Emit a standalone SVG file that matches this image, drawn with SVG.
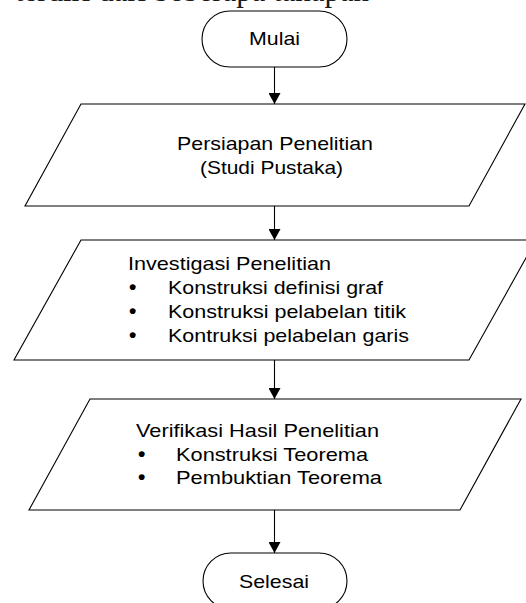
<svg xmlns="http://www.w3.org/2000/svg" width="526" height="603" viewBox="0 0 526 603">
  <style>
    .shape { fill: #ffffff; stroke: #000000; stroke-width: 1.1; }
    .lbl { font-family: "Liberation Sans", Arial, sans-serif; font-size: 19px; fill: #000000; }
    .bul { font-family: "Liberation Sans", Arial, sans-serif; font-size: 21px; font-weight: bold; fill: #000000; }
    .mid { text-anchor: middle; }
    .conn { stroke: #000000; stroke-width: 1.1; fill: none; marker-end: url(#arrow); }
    .top { font-family: "Liberation Serif", "Times New Roman", serif; font-size: 31px; fill: #1a1a1a; }
  </style>
  <defs>
    <marker id="arrow" markerUnits="userSpaceOnUse" markerWidth="12" markerHeight="12" viewBox="0 0 11 12" refX="11" refY="6" orient="auto">
      <path d="M0,0 L11,6 L0,12 Z" fill="#000000"/>
    </marker>
  </defs>
  <rect width="526" height="603" fill="#ffffff"/>

  <text class="top" x="15" y="0.5" textLength="354" lengthAdjust="spacingAndGlyphs">terdiri dari beberapa tahapan</text>

  <g id="connectors">
    <line class="conn" x1="274.5" y1="67" x2="274.5" y2="104"/>
    <line class="conn" x1="274.5" y1="206" x2="274.5" y2="240"/>
    <line class="conn" x1="274.5" y1="360" x2="274.5" y2="399"/>
    <line class="conn" x1="274.5" y1="510" x2="274.5" y2="553"/>
  </g>

  <g id="mulai">
    <rect class="shape" x="202" y="11" width="145" height="56" rx="28" ry="28"/>
    <text class="lbl mid" x="274.5" y="45" textLength="51" lengthAdjust="spacingAndGlyphs">Mulai</text>
  </g>

  <g id="persiapan">
    <polygon class="shape" points="81,104 525,104 469,206 25,206"/>
    <text class="lbl mid" x="275" y="150" textLength="196" lengthAdjust="spacingAndGlyphs">Persiapan Penelitian</text>
    <text class="lbl mid" x="271.5" y="174" textLength="143" lengthAdjust="spacingAndGlyphs">(Studi Pustaka)</text>
  </g>

  <g id="investigasi">
    <polygon class="shape" points="81,240 536,240 469,360 14,360"/>
    <text class="lbl" x="128" y="270" textLength="203" lengthAdjust="spacingAndGlyphs">Investigasi Penelitian</text>
    <text class="bul" x="129" y="294">•</text>
    <text class="lbl" x="168" y="294" textLength="215" lengthAdjust="spacingAndGlyphs">Konstruksi definisi graf</text>
    <text class="bul" x="129" y="318">•</text>
    <text class="lbl" x="168" y="318" textLength="238" lengthAdjust="spacingAndGlyphs">Konstruksi pelabelan titik</text>
    <text class="bul" x="129" y="342">•</text>
    <text class="lbl" x="168" y="342" textLength="241" lengthAdjust="spacingAndGlyphs">Kontruksi pelabelan garis</text>
  </g>

  <g id="verifikasi">
    <polygon class="shape" points="90,399 521,399 460,510 29,510"/>
    <text class="lbl" x="136" y="437" textLength="243" lengthAdjust="spacingAndGlyphs">Verifikasi Hasil Penelitian</text>
    <text class="bul" x="138" y="461">•</text>
    <text class="lbl" x="176" y="461" textLength="192" lengthAdjust="spacingAndGlyphs">Konstruksi Teorema</text>
    <text class="bul" x="138" y="484">•</text>
    <text class="lbl" x="176" y="484" textLength="206" lengthAdjust="spacingAndGlyphs">Pembuktian Teorema</text>
  </g>

  <g id="selesai">
    <rect class="shape" x="203" y="553" width="144" height="56" rx="28" ry="28"/>
    <text class="lbl mid" x="274" y="588" textLength="70" lengthAdjust="spacingAndGlyphs">Selesai</text>
  </g>
</svg>
